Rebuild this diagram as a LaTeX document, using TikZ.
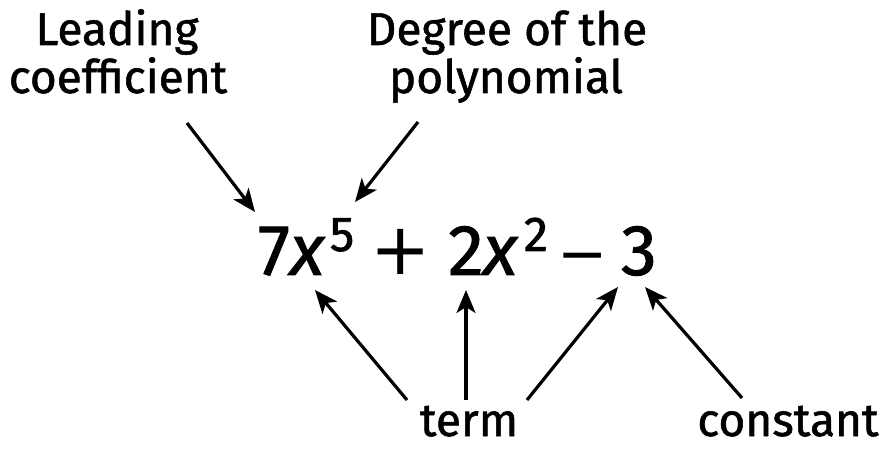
\documentclass[tikz,border=0pt]{standalone}
\usepackage{fontspec}
\setmainfont{Fira Sans}[FakeBold=1.2]
\newfontfamily\symfont{DejaVu Sans}
\usetikzlibrary{arrows.meta}
\begin{document}
\begin{tikzpicture}[x=1pt,y=1pt,
  lbl/.style={inner sep=0pt, anchor=base, font=\fontsize{46}{50}\selectfont},
  eq/.style={inner sep=0pt, anchor=base, font=\fontsize{72}{76}\selectfont},
  eqsup/.style={inner sep=0pt, anchor=base, font=\fontsize{49}{52}\selectfont},
  ptr/.style={line width=3.2pt, -{Stealth[length=23pt,width=19pt,inset=6pt]}}]
\useasboundingbox (0,0) rectangle (886,450);
% labels
\node[lbl] (lead) at (117,405) {Leading};
\node[lbl] (coef) at (118,357) {coefficient};
\node[lbl] (deg) at (507,405) {Degree of the};
\node[lbl] (poly) at (506,357) {polynomial};
\node[lbl] (term) at (469,14) {term};
\node[lbl] (const) at (788,14) {constant};
% equation
\node[eq] (seven) at (274,175) {7};
\node[eq] (xa) at (307,175) {\itshape x};
\node[eqsup] (five) at (342,199) {5};
\node[eq] (plus) at (401,175) {\symfont +};
\node[eq] (two) at (466,175) {2};
\node[eq] (xb) at (500,175) {\itshape x};
\node[eqsup] (sq) at (536,199) {2};
\node[inner sep=0pt, anchor=base, font=\fontsize{60}{62}\selectfont] (minus) at (583,175) {\symfont −};
\node[eq] (three) at (639,175) {3};
% connector end points
\coordinate (s1) at (187,327); \coordinate (e1) at (255,238);
\coordinate (s2) at (418,328); \coordinate (e2) at (355,248);
\coordinate (s3) at (407,50);  \coordinate (e3) at (315,160);
\coordinate (s4) at (466,50);  \coordinate (e4) at (466,160);
\coordinate (s5) at (527,50);  \coordinate (e5) at (618,163);
\coordinate (s6) at (742,52);  \coordinate (e6) at (645,163);
\draw[ptr] (s1) -- (e1);
\draw[ptr] (s2) -- (e2);
\draw[ptr] (s3) -- (e3);
\draw[ptr] (s4) -- (e4);
\draw[ptr] (s5) -- (e5);
\draw[ptr] (s6) -- (e6);
\end{tikzpicture}
\end{document}
